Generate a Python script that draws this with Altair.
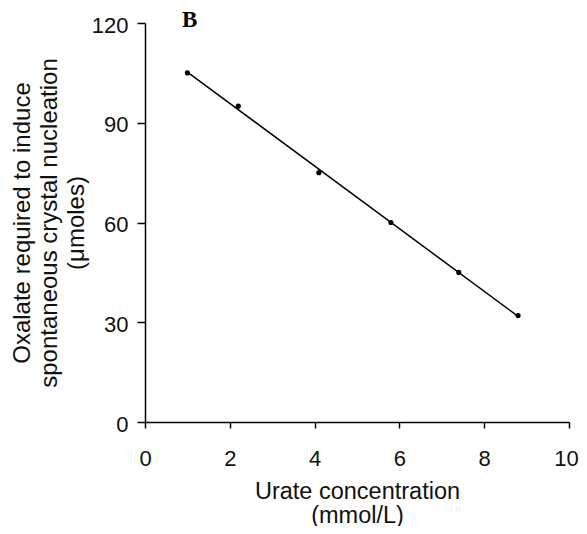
import altair as alt
import pandas as pd

urate = [1.0, 2.2, 4.1, 5.8, 7.4, 8.8]
oxalate = [105, 95, 75, 60, 45, 32]

df = pd.DataFrame({"urate": urate, "oxalate": oxalate})

x_enc = alt.X("urate:Q",
              scale=alt.Scale(domain=[0, 10], nice=False),
              axis=alt.Axis(values=[0, 2, 4, 6, 8, 10], title=["Urate concentration", "(mmol/L)"],
                            tickSize=6, labelPadding=20, titlePadding=10, titleLineHeight=24,
                            titleFontSize=23.5,
                            labelOffset={"condition": {"test": "datum.value === 10", "value": -3},
                                         "value": 0}))
y_enc = alt.Y("oxalate:Q",
              scale=alt.Scale(domain=[0, 120], nice=False),
              axis=alt.Axis(values=[0, 30, 60, 90, 120],
                            title=["Oxalate required to induce", "spontaneous crystal nucleation", "(\u03bcmoles)"],
                            tickSize=8, labelPadding=9, labelOffset=2, titlePadding=3,
                            titleLineHeight=27, titleFontSize=24))

base = alt.Chart(df)

points = base.mark_circle(color="black", size=26, opacity=1).encode(x=x_enc, y=y_enc)

line = base.transform_regression("urate", "oxalate", extent=[1.0, 8.8]).mark_line(
    color="black", strokeWidth=1.5).encode(x="urate:Q", y="oxalate:Q")

label = alt.Chart(pd.DataFrame({"t": ["B"]})).mark_text(
    font="Liberation Serif", fontWeight="bold", fontSize=23, align="left",
    baseline="alphabetic", color="black").encode(
    text="t:N", x=alt.value(37), y=alt.value(4))

chart = alt.layer(line, points, label).properties(
    width=424, height=399,
    autosize=alt.AutoSizeParams(type="none"),
    padding={"left": 137, "top": 15, "right": 10, "bottom": 104},
).configure_view(stroke=None).configure_axis(
    grid=False, domainColor="black", domainWidth=1.5, tickColor="black", tickWidth=1.5,
    labelFont="Liberation Sans", labelFontSize=22, labelColor="#111",
    titleFont="Liberation Sans", titleFontWeight="normal", titleColor="#111",
).configure_axisX(labelFlush=False).configure_axisY(labelFlush=False)

chart.save("out.html", embed_options={"renderer": "svg", "actions": False})
